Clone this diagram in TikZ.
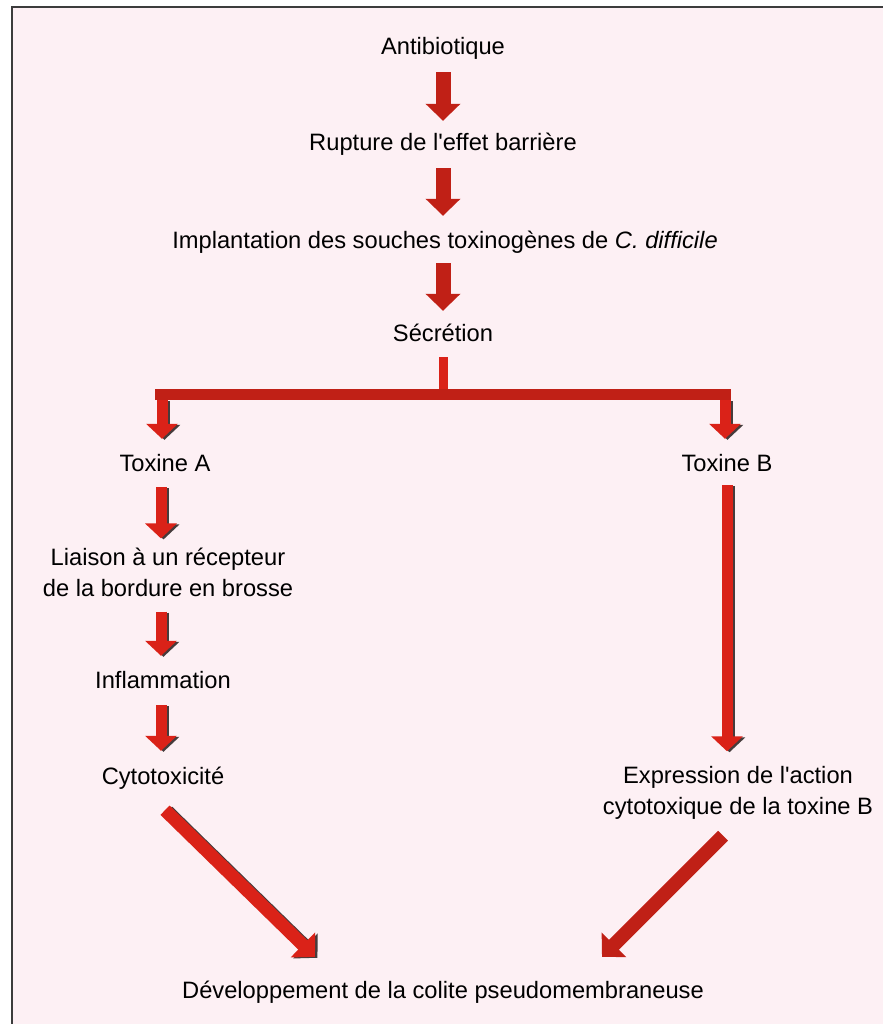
\documentclass[tikz,border=0pt]{standalone}
\usepackage{fontspec}
\setmainfont{Liberation Sans}[Ligatures=TeXOff]
\usetikzlibrary{arrows.meta}
\definecolor{bgpink}{RGB}{253,240,244}
\definecolor{arrred}{RGB}{192,32,22}
\definecolor{arrbright}{RGB}{218,34,24}
\definecolor{shadowgray}{RGB}{70,60,60}
\definecolor{framegray}{RGB}{60,60,60}
\begin{document}
\begin{tikzpicture}[x=1pt,y=-1pt,
  lab/.style={inner sep=0pt, font=\fontsize{23.7}{31}\selectfont, text height=20pt, text depth=4pt},
  mlab/.style={inner sep=0pt, font=\fontsize{23.7}{31}\selectfont, align=center},
  arr/.style={draw=arrred, line width=15pt, -{Triangle[width=34pt,length=17pt]}},
  carr/.style={draw=arrbright, line width=11pt, -{Triangle[width=31pt,length=15pt]}},
  darr/.style={draw=arrbright, line width=13pt, -{Triangle[width=34pt,length=17pt]}},
  shad/.style={draw=shadowgray, transform canvas={xshift=2.5pt,yshift=-1pt}}
]
\useasboundingbox (0,0) rectangle (883,1024);
\fill[white] (0,0) rectangle (883,1024);
\fill[bgpink] (12,7) rectangle (883,1024);
\draw[framegray, line width=2pt] (12,1024) -- (12,7) -- (883,7);

\node[lab] (antib) at (443,47) {Antibiotique};
\node[lab] (rupt) at (443,143) {Rupture de l'effet barrière};
\node[lab] (impl) at (445,240) {Implantation des souches toxinogènes de \textit{C. difficile}};
\node[lab] (secr) at (443,333) {Sécrétion};
\node[lab] (toxA) at (165,463) {Toxine A};
\node[lab] (toxB) at (727,463) {Toxine B};
\node[mlab] (liai) at (168,572) {Liaison à un récepteur\\de la bordure en brosse};
\node[lab] (infl) at (163,680) {Inflammation};
\node[lab] (cyto) at (163,776) {Cytotoxicité};
\node[mlab] (expr) at (738,793) {Expression de l'action\\cytotoxique de la toxine B};
\node[lab] (dev) at (443,990) {Développement de la colite pseudomembraneuse};

% main chain
\draw[arr, shorten <=13pt, shorten >=10pt] (antib.south) -- (antib.south |- rupt.north);
\draw[arr, shorten <=13pt, shorten >=12pt] (rupt.south) -- (rupt.south |- impl.north);
\draw[arr, shorten <=11pt, shorten >=10pt] (secr.north |- impl.south) -- (secr.north);

% branch
\coordinate (barL) at (162,400);
\coordinate (barR) at (725,400);
\coordinate (barC) at (443,389);
\draw[arrbright, line width=9pt, shorten <=12pt] (secr.south) -- (secr.south |- barC);
\fill[arrred] (155,389) rectangle (731,400);
\draw[carr, shad, shorten >=12pt] (barL) -- (barL |- toxA.north);
\draw[carr, shorten >=12pt] (barL) -- (barL |- toxA.north);
\draw[carr, shad, shorten >=12pt] (barR) -- (barR |- toxB.north);
\draw[carr, shorten >=12pt] (barR) -- (barR |- toxB.north);

% left column
\coordinate (colA) at (161,0);
\draw[carr, shad, shorten <=12pt, shorten >=9pt] (colA |- toxA.south) -- (colA |- liai.north);
\draw[carr, shorten <=12pt, shorten >=9pt] (colA |- toxA.south) -- (colA |- liai.north);
\draw[carr, shad, shorten <=15pt, shorten >=12pt] (colA |- liai.south) -- (colA |- infl.north);
\draw[carr, shorten <=15pt, shorten >=12pt] (colA |- liai.south) -- (colA |- infl.north);
\draw[carr, shad, shorten <=13pt, shorten >=13pt] (colA |- infl.south) -- (colA |- cyto.north);
\draw[carr, shorten <=13pt, shorten >=13pt] (colA |- infl.south) -- (colA |- cyto.north);

% right column
\draw[carr, shad, shorten <=10pt, shorten >=15pt] (toxB.south) -- (toxB.south |- expr.north);
\draw[carr, shorten <=10pt, shorten >=15pt] (toxB.south) -- (toxB.south |- expr.north);

% diagonals
\draw[darr, shad] ([xshift=2pt,yshift=-22pt]cyto.south) -- ([xshift=-128pt,yshift=21pt]dev.north);
\draw[darr] ([xshift=2pt,yshift=-22pt]cyto.south) -- ([xshift=-128pt,yshift=21pt]dev.north);
\draw[darr, draw=arrred, line width=14pt] ([xshift=-15pt,yshift=-16pt]expr.south) -- ([xshift=159pt,yshift=21pt]dev.north);
\end{tikzpicture}
\end{document}
